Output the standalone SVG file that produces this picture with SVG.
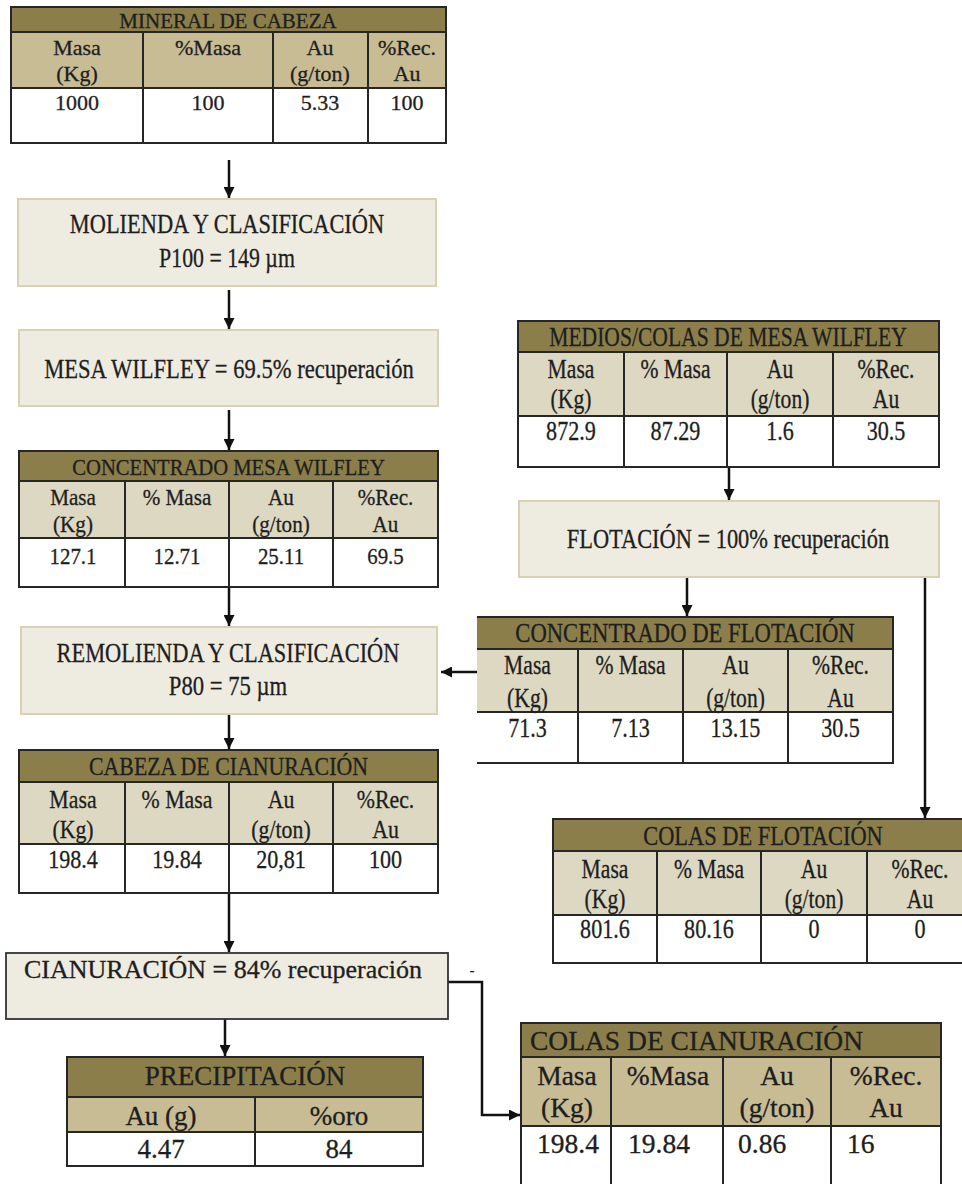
<svg xmlns="http://www.w3.org/2000/svg" width="962" height="1184" viewBox="0 0 962 1184">
<style>
.t{font-family:"Liberation Serif","Times New Roman",serif;fill:#1e1e1e;stroke:#1e1e1e;stroke-width:0.3;text-anchor:middle}
.ts{font-family:"Liberation Serif","Times New Roman",serif;fill:#1e1e1e;stroke:#1e1e1e;stroke-width:0.3;text-anchor:start}
.box{fill:#eeebe0;stroke:#d8d1b3;stroke-width:2}
.boxd{fill:#eeebe0;stroke:#333;stroke-width:1.8}
.ttl{fill:#8b7e4a}
.hdA{fill:#c8bc94}
.hdB{fill:#ddd8c1}
.wh{fill:#fff}
.grid{stroke:#262626;stroke-width:2;fill:none}
.conn{stroke:#111;stroke-width:2.5;fill:none;marker-end:url(#ah)}
</style>
<defs>
<marker id="ah" markerUnits="userSpaceOnUse" viewBox="0 0 10 10" refX="10" refY="5" markerWidth="11" markerHeight="11" orient="auto">
<path d="M0,0 L10,5 L0,10 z" fill="#111"/>
</marker>
</defs>
<rect width="962" height="1184" fill="#fff"/>

<g id="connectors">
<path class="conn" d="M229,160 V198"/>
<path class="conn" d="M229,290 V329"/>
<path class="conn" d="M229,410 V450"/>
<path class="conn" d="M229,587 V626"/>
<path class="conn" d="M229,714 V749"/>
<path class="conn" d="M229,893 V952"/>
<path class="conn" d="M225,1019 V1056"/>
<path class="conn" d="M729,458 V500"/>
<path class="conn" d="M687,577 V616"/>
<path class="conn" d="M925,577 V818"/>
<path class="conn" d="M477,672 H441"/>
<path class="conn" d="M448,982 H482 V1115 H520"/>
</g>

<g id="mineral-cabeza">
<rect class="ttl" x="11" y="7" width="435" height="25"/>
<rect class="hdA" x="11" y="32" width="435" height="56"/>
<rect class="wh" x="11" y="88" width="435" height="55"/>
<rect class="grid" x="11" y="7" width="435" height="136"/>
<path class="grid" d="M11,32 H446 M11,88 H446 M143,32 V143 M273,32 V143 M368,32 V143"/>
<text class="t" x="228" y="28" font-size="21">MINERAL DE CABEZA</text>
<g font-size="22">
<text class="t" x="77" y="55">Masa</text><text class="t" x="77" y="81">(Kg)</text>
<text class="t" x="208" y="55">%Masa</text>
<text class="t" x="320" y="55">Au</text><text class="t" x="320" y="81">(g/ton)</text>
<text class="t" x="407" y="55">%Rec.</text><text class="t" x="407" y="81">Au</text>
<text class="t" x="77" y="110">1000</text>
<text class="t" x="208" y="110">100</text>
<text class="t" x="320" y="110">5.33</text>
<text class="t" x="407" y="110">100</text>
</g>
</g>

<g id="molienda">
<rect class="box" x="18" y="199" width="418" height="87"/>
<text class="t" font-size="28" transform="translate(227,233) scale(.8,1)">MOLIENDA Y CLASIFICACIÓN</text>
<text class="t" font-size="28" transform="translate(227,267) scale(.78,1)">P100 = 149 µm</text>
</g>

<g id="mesa-wilfley">
<rect class="box" x="19" y="330" width="419" height="76"/>
<text class="t" font-size="28" transform="translate(229,378) scale(.807,1)">MESA WILFLEY = 69.5% recuperación</text>
</g>

<g id="concentrado-mesa">
<rect class="ttl" x="19" y="451" width="419" height="30"/>
<rect class="hdB" x="19" y="481" width="419" height="57"/>
<rect class="wh" x="19" y="538" width="419" height="49"/>
<rect class="grid" x="19" y="451" width="419" height="136"/>
<path class="grid" d="M19,481 H438 M19,538 H438 M125,481 V587 M229,481 V587 M333,481 V587"/>
<g font-size="24">
<text class="t" transform="translate(228.5,475) scale(.86,1)">CONCENTRADO MESA WILFLEY</text>
<text class="t" transform="translate(73,505) scale(.88,1)">Masa</text><text class="t" transform="translate(73,532) scale(.88,1)">(Kg)</text>
<text class="t" transform="translate(177,505) scale(.88,1)">% Masa</text>
<text class="t" transform="translate(281,505) scale(.88,1)">Au</text><text class="t" transform="translate(281,532) scale(.88,1)">(g/ton)</text>
<text class="t" transform="translate(385.5,505) scale(.88,1)">%Rec.</text><text class="t" transform="translate(385.5,532) scale(.88,1)">Au</text>
<text class="t" transform="translate(73,564) scale(.87,1)">127.1</text>
<text class="t" transform="translate(177,564) scale(.87,1)">12.71</text>
<text class="t" transform="translate(281,564) scale(.87,1)">25.11</text>
<text class="t" transform="translate(385.5,564) scale(.87,1)">69.5</text>
</g>
</g>

<g id="remolienda">
<rect class="box" x="21" y="627" width="416" height="87"/>
<text class="t" font-size="28" transform="translate(228,662) scale(.8,1)">REMOLIENDA Y CLASIFICACIÓN</text>
<text class="t" font-size="28" transform="translate(228,695) scale(.81,1)">P80 = 75 µm</text>
</g>

<g id="cabeza-cianuracion">
<rect class="ttl" x="19" y="750" width="419" height="32"/>
<rect class="hdB" x="19" y="782" width="419" height="62"/>
<rect class="wh" x="19" y="844" width="419" height="49"/>
<rect class="grid" x="19" y="750" width="419" height="143"/>
<path class="grid" d="M19,782 H438 M19,844 H438 M125,782 V893 M229,782 V893 M333,782 V893"/>
<g font-size="26">
<text class="t" transform="translate(228.5,775) scale(.84,1)">CABEZA DE CIANURACIÓN</text>
<text class="t" transform="translate(73,808) scale(.84,1)">Masa</text><text class="t" transform="translate(73,838) scale(.84,1)">(Kg)</text>
<text class="t" transform="translate(177,808) scale(.84,1)">% Masa</text>
<text class="t" transform="translate(281,808) scale(.84,1)">Au</text><text class="t" transform="translate(281,838) scale(.84,1)">(g/ton)</text>
<text class="t" transform="translate(385.5,808) scale(.84,1)">%Rec.</text><text class="t" transform="translate(385.5,838) scale(.84,1)">Au</text>
<text class="t" transform="translate(73,868) scale(.85,1)">198.4</text>
<text class="t" transform="translate(177,868) scale(.85,1)">19.84</text>
<text class="t" transform="translate(281,868) scale(.85,1)">20,81</text>
<text class="t" transform="translate(385.5,868) scale(.85,1)">100</text>
</g>
</g>

<g id="cianuracion">
<rect class="boxd" x="6" y="953" width="442" height="66"/>
<text class="t" x="223" y="978" font-size="26">CIANURACIÓN = 84% recuperación</text>
<text class="t" x="472" y="975" font-size="14" fill="#666" stroke="none">-</text>
</g>

<g id="precipitacion">
<rect class="ttl" x="67" y="1057" width="356" height="40"/>
<rect class="hdA" x="67" y="1097" width="356" height="35"/>
<rect class="wh" x="67" y="1132" width="356" height="34"/>
<rect class="grid" x="67" y="1057" width="356" height="109"/>
<path class="grid" d="M67,1097 H423 M67,1132 H423 M255,1097 V1166"/>
<g font-size="27">
<text class="t" x="245" y="1085">PRECIPITACIÓN</text>
<text class="t" x="161" y="1125">Au (g)</text>
<text class="t" x="339" y="1125">%oro</text>
<text class="t" x="161" y="1158">4.47</text>
<text class="t" x="339" y="1158">84</text>
</g>
</g>

<g id="medios-colas-mesa">
<rect class="ttl" x="518" y="321" width="421" height="31"/>
<rect class="hdB" x="518" y="352" width="421" height="64"/>
<rect class="wh" x="518" y="416" width="421" height="51"/>
<rect class="grid" x="518" y="321" width="421" height="146"/>
<path class="grid" d="M518,352 H939 M518,416 H939 M624,352 V467 M727,352 V467 M833,352 V467"/>
<g font-size="27">
<text class="t" transform="translate(728,346) scale(.8,1)">MEDIOS/COLAS DE MESA WILFLEY</text>
<text class="t" transform="translate(571,378) scale(.8,1)">Masa</text><text class="t" transform="translate(571,408) scale(.8,1)">(Kg)</text>
<text class="t" transform="translate(675.5,378) scale(.8,1)">% Masa</text>
<text class="t" transform="translate(780,378) scale(.8,1)">Au</text><text class="t" transform="translate(780,408) scale(.8,1)">(g/ton)</text>
<text class="t" transform="translate(886,378) scale(.8,1)">%Rec.</text><text class="t" transform="translate(886,408) scale(.8,1)">Au</text>
<text class="t" transform="translate(571,440) scale(.82,1)">872.9</text>
<text class="t" transform="translate(675.5,440) scale(.82,1)">87.29</text>
<text class="t" transform="translate(780,440) scale(.82,1)">1.6</text>
<text class="t" transform="translate(886,440) scale(.82,1)">30.5</text>
</g>
</g>

<g id="flotacion">
<rect class="box" x="519" y="501" width="420" height="76"/>
<text class="t" font-size="28" transform="translate(728,548) scale(.8,1)">FLOTACIÓN = 100% recuperación</text>
</g>

<g id="concentrado-flotacion">
<rect class="ttl" x="477" y="617" width="416" height="32"/>
<rect class="hdB" x="477" y="649" width="416" height="63"/>
<rect class="wh" x="477" y="712" width="416" height="51"/>
<path class="grid" d="M477,617 H893 V763 H477 M477,649 H893 M477,712 H893 M578,649 V763 M683,649 V763 M788,649 V763"/>
<g font-size="27">
<text class="t" transform="translate(685,642) scale(.84,1)">CONCENTRADO DE FLOTACIÓN</text>
<text class="t" transform="translate(527.5,674) scale(.8,1)">Masa</text><text class="t" transform="translate(527.5,707) scale(.8,1)">(Kg)</text>
<text class="t" transform="translate(630.5,674) scale(.8,1)">% Masa</text>
<text class="t" transform="translate(735.5,674) scale(.8,1)">Au</text><text class="t" transform="translate(735.5,707) scale(.8,1)">(g/ton)</text>
<text class="t" transform="translate(840.5,674) scale(.8,1)">%Rec.</text><text class="t" transform="translate(840.5,707) scale(.8,1)">Au</text>
<text class="t" transform="translate(527.5,737) scale(.82,1)">71.3</text>
<text class="t" transform="translate(630.5,737) scale(.82,1)">7.13</text>
<text class="t" transform="translate(735.5,737) scale(.82,1)">13.15</text>
<text class="t" transform="translate(840.5,737) scale(.82,1)">30.5</text>
</g>
</g>

<g id="colas-flotacion">
<rect class="ttl" x="553" y="819" width="420" height="32"/>
<rect class="hdB" x="553" y="851" width="420" height="64"/>
<rect class="wh" x="553" y="915" width="420" height="48"/>
<rect class="grid" x="553" y="819" width="420" height="144"/>
<path class="grid" d="M553,851 H973 M553,915 H973 M657,851 V963 M761,851 V963 M867,851 V963"/>
<g font-size="27">
<text class="t" transform="translate(763,845) scale(.83,1)">COLAS DE FLOTACIÓN</text>
<text class="t" transform="translate(605,878) scale(.8,1)">Masa</text><text class="t" transform="translate(605,908) scale(.8,1)">(Kg)</text>
<text class="t" transform="translate(709,878) scale(.8,1)">% Masa</text>
<text class="t" transform="translate(814,878) scale(.8,1)">Au</text><text class="t" transform="translate(814,908) scale(.8,1)">(g/ton)</text>
<text class="t" transform="translate(920,878) scale(.8,1)">%Rec.</text><text class="t" transform="translate(920,908) scale(.8,1)">Au</text>
<text class="t" transform="translate(605,938) scale(.82,1)">801.6</text>
<text class="t" transform="translate(709,938) scale(.82,1)">80.16</text>
<text class="t" transform="translate(814,938) scale(.82,1)">0</text>
<text class="t" transform="translate(920,938) scale(.82,1)">0</text>
</g>
</g>

<g id="colas-cianuracion">
<rect class="ttl" x="521" y="1023" width="420" height="34"/>
<rect class="hdA" x="521" y="1057" width="420" height="69"/>
<rect class="wh" x="521" y="1126" width="420" height="64"/>
<rect class="grid" x="521" y="1023" width="420" height="167"/>
<path class="grid" d="M521,1057 H941 M521,1126 H941 M611,1057 V1190 M723,1057 V1190 M831,1057 V1190"/>
<g font-size="27.5">
<text class="ts" x="530" y="1050">COLAS DE CIANURACIÓN</text>
<text class="t" x="567" y="1085">Masa</text><text class="t" x="567" y="1117">(Kg)</text>
<text class="t" x="668" y="1085">%Masa</text>
<text class="t" x="777" y="1085">Au</text><text class="t" x="777" y="1117">(g/ton)</text>
<text class="t" x="886" y="1085">%Rec.</text><text class="t" x="886" y="1117">Au</text>
<text class="ts" x="537" y="1153">198.4</text>
<text class="ts" x="628" y="1153">19.84</text>
<text class="ts" x="738" y="1153">0.86</text>
<text class="ts" x="847" y="1153">16</text>
</g>
</g>
</svg>
